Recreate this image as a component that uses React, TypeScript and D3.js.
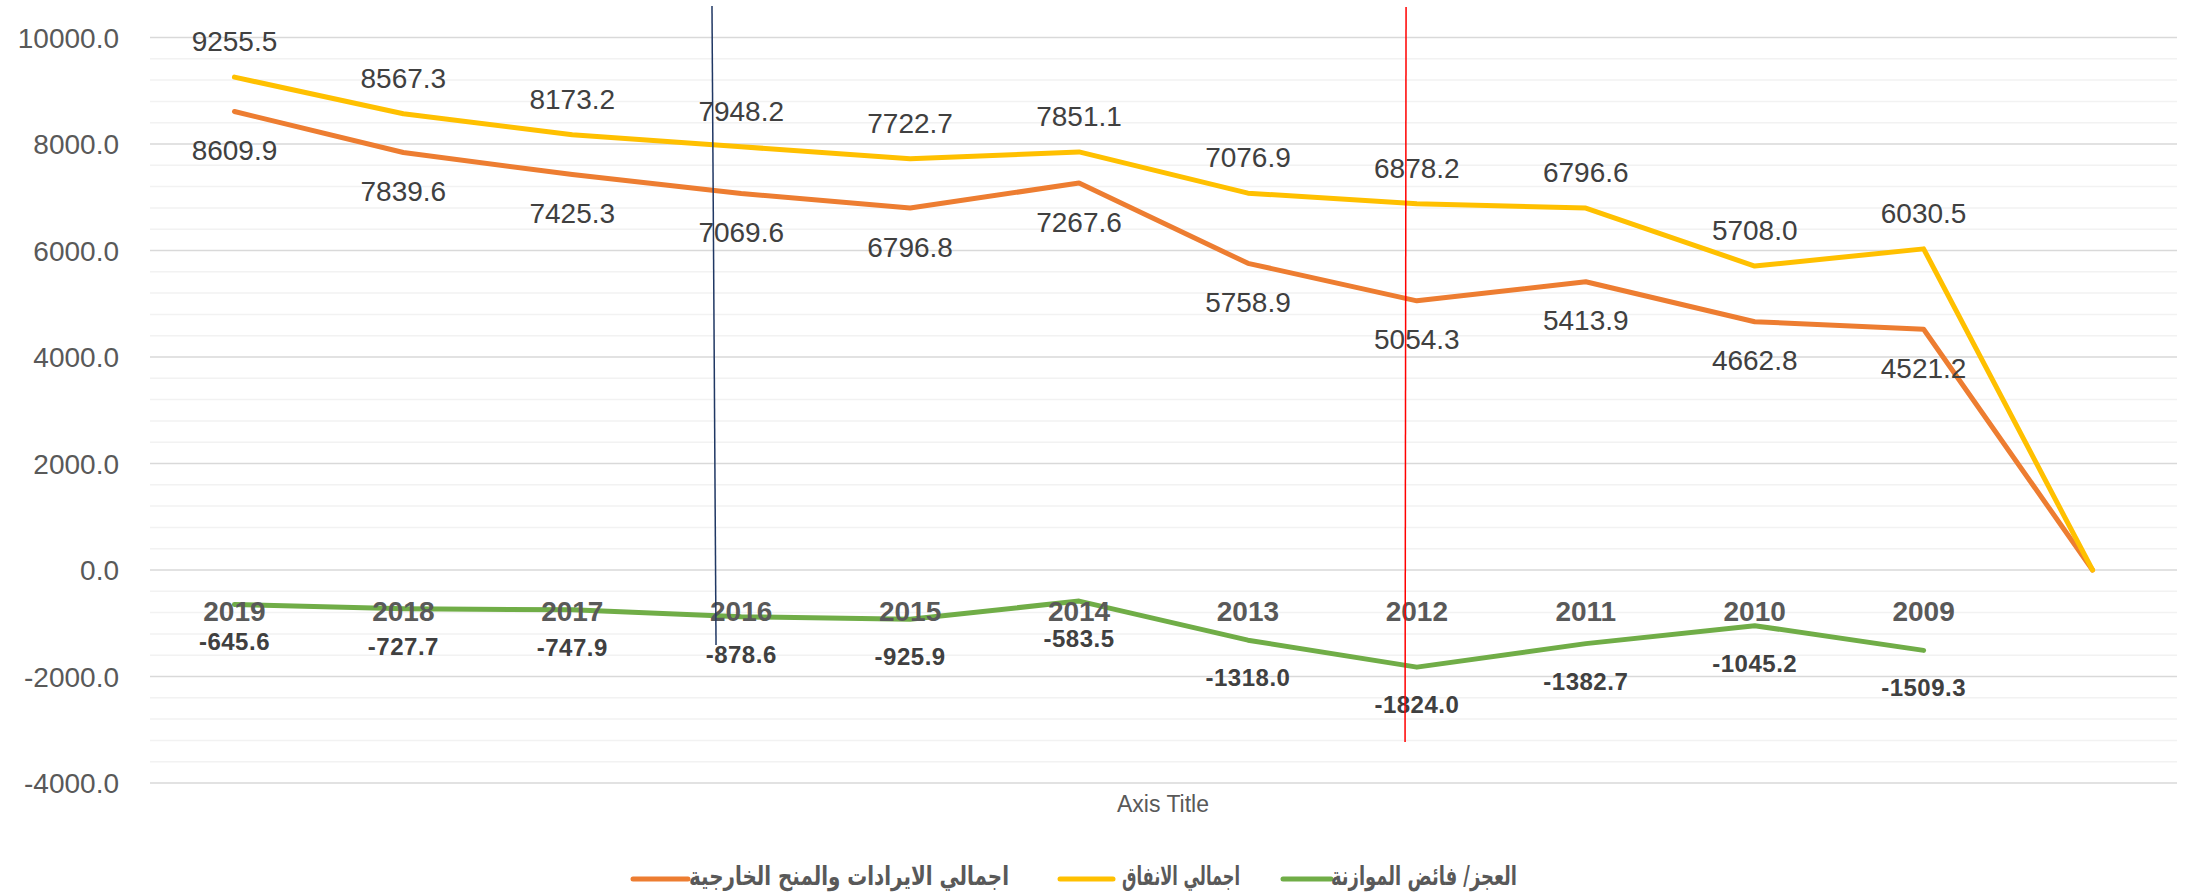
import React from "react";
import * as d3 from "d3";

const categories = ["2019", "2018", "2017", "2016", "2015", "2014", "2013", "2012", "2011", "2010", "2009", ""];
const revenue = [8609.9, 7839.6, 7425.3, 7069.6, 6796.8, 7267.6, 5758.9, 5054.3, 5413.9, 4662.8, 4521.2, 0];
const spending = [9255.5, 8567.3, 8173.2, 7948.2, 7722.7, 7851.1, 7076.9, 6878.2, 6796.6, 5708.0, 6030.5, 0];
const balance: (number | null)[] = [-645.6, -727.7, -747.9, -878.6, -925.9, -583.5, -1318.0, -1824.0, -1382.7, -1045.2, -1509.3, null];
const majorTicks = [-4000, -2000, 0, 2000, 4000, 6000, 8000, 10000];
const seriesNames = ["اجمالي الايرادات والمنح الخارجية", "اجمالي الانفاق", "العجز/ فائض الموازنة"];
const axisTitle = "Axis Title";
// annotation lines: [category position, value] endpoints
const annotations = [
  { color: "#203864", from: [2.827, 10590], to: [2.851, -1410] },
  { color: "#FF0000", from: [6.936, 10575], to: [6.930, -3230] },
];

const W = 2188;
const H = 895;
const FONT = "'Liberation Sans', Arial, sans-serif";

export default function App() {
  React.useEffect(() => {
    document.body.style.margin = "0";
  }, []);

  const x = d3.scaleBand<number>().domain(d3.range(categories.length)).range([150, 2177]);
  const bw = x.bandwidth();
  const cx = (i: number) => (x(i) as number) + bw / 2;
  const xc = d3.scaleLinear().domain([0, 1]).range([cx(0), cx(1)]);
  const y = d3.scaleLinear().domain([-4000, 10000]).range([783, 37.5]);

  const minorTicks = d3.range(-4000, 10001, 400).filter((v) => !majorTicks.includes(v));

  const line = d3
    .line<number | null>()
    .defined((d) => d !== null)
    .x((_, i) => cx(i))
    .y((d) => y(d as number));

  const series = [
    { name: seriesNames[0], color: "#ED7D31", values: revenue as (number | null)[] },
    { name: seriesNames[1], color: "#FFC000", values: spending as (number | null)[] },
    { name: seriesNames[2], color: "#70AD47", values: balance },
  ];

  const legendY = 879;
  const legendItems = [
    { color: "#ED7D31", x1: 633, x2: 688, tx: 849, tw: 320, name: seriesNames[0] },
    { color: "#FFC000", x1: 1060, x2: 1113, tx: 1181, tw: 118, name: seriesNames[1] },
    { color: "#70AD47", x1: 1283, x2: 1331, tx: 1424, tw: 186, name: seriesNames[2] },
  ];

  return (
    <svg
      width={W}
      height={H}
      style={{ position: "absolute", left: 0, top: 0, display: "block", background: "#fff" }}
    >
      <rect x={0} y={0} width={W} height={H} fill="#fff" />
      {/* gridlines */}
      <g>
        {minorTicks.map((v) => (
          <line key={"m" + v} x1={150} x2={2177} y1={y(v)} y2={y(v)} stroke="#F2F2F2" strokeWidth={1.5} />
        ))}
        {majorTicks.map((v) => (
          <line key={"M" + v} x1={150} x2={2177} y1={y(v)} y2={y(v)} stroke="#D9D9D9" strokeWidth={1.5} />
        ))}
      </g>
      {/* y tick labels */}
      <g fontFamily={FONT} fontSize={28} fill="#595959" textAnchor="end">
        {majorTicks.map((v) => (
          <text key={"t" + v} x={119} y={y(v) + 10}>
            {v.toFixed(1)}
          </text>
        ))}
      </g>
      {/* series lines */}
      <g fill="none" strokeWidth={5} strokeLinejoin="round" strokeLinecap="round">
        {series.map((s) => (
          <path key={s.name} d={line(s.values) || ""} stroke={s.color} />
        ))}
      </g>
      {/* category labels */}
      <g fontFamily={FONT} fontSize={28} fontWeight="bold" fill="#595959" textAnchor="middle">
        {categories.map((c, i) => (
          <text key={"c" + i} x={cx(i)} y={621}>
            {c}
          </text>
        ))}
      </g>
      {/* data labels */}
      <g fontFamily={FONT} fontSize={28} fill="#404040" textAnchor="middle">
        {spending.map((v, i) =>
          categories[i] ? (
            <text key={"s" + i} x={cx(i)} y={y(v) - 26}>
              {v.toFixed(1)}
            </text>
          ) : null
        )}
        {revenue.map((v, i) =>
          categories[i] ? (
            <text key={"r" + i} x={cx(i)} y={y(v) + 48.5}>
              {v.toFixed(1)}
            </text>
          ) : null
        )}
      </g>
      <g fontFamily={FONT} fontSize={24} fontWeight="bold" fill="#404040" textAnchor="middle" letterSpacing={0.5}>
        {balance.map((v, i) =>
          v !== null ? (
            <text key={"b" + i} x={cx(i)} y={y(v) + 46}>
              {v.toFixed(1)}
            </text>
          ) : null
        )}
      </g>
      {/* axis title */}
      <text x={1163} y={812} fontFamily={FONT} fontSize={23} fill="#595959" textAnchor="middle">
        {axisTitle}
      </text>
      {/* legend */}
      <g>
        {legendItems.map((l) => (
          <g key={l.name}>
            <line x1={l.x1} x2={l.x2} y1={legendY} y2={legendY} stroke={l.color} strokeWidth={5} strokeLinecap="round" />
            <text
              x={l.tx}
              y={885}
              textAnchor="middle"
              fontFamily="'DejaVu Sans', sans-serif"
              fontWeight="bold"
              fontSize={26}
              fill="#595959"
              direction="rtl"
              textLength={l.tw}
              lengthAdjust="spacingAndGlyphs"
            >
              {l.name}
            </text>
          </g>
        ))}
      </g>
      {/* annotation lines */}
      <g>
        {annotations.map((a, i) => (
          <line
            key={"a" + i}
            x1={xc(a.from[0])}
            y1={y(a.from[1])}
            x2={xc(a.to[0])}
            y2={y(a.to[1])}
            stroke={a.color}
            strokeWidth={1.5}
          />
        ))}
      </g>
    </svg>
  );
}
